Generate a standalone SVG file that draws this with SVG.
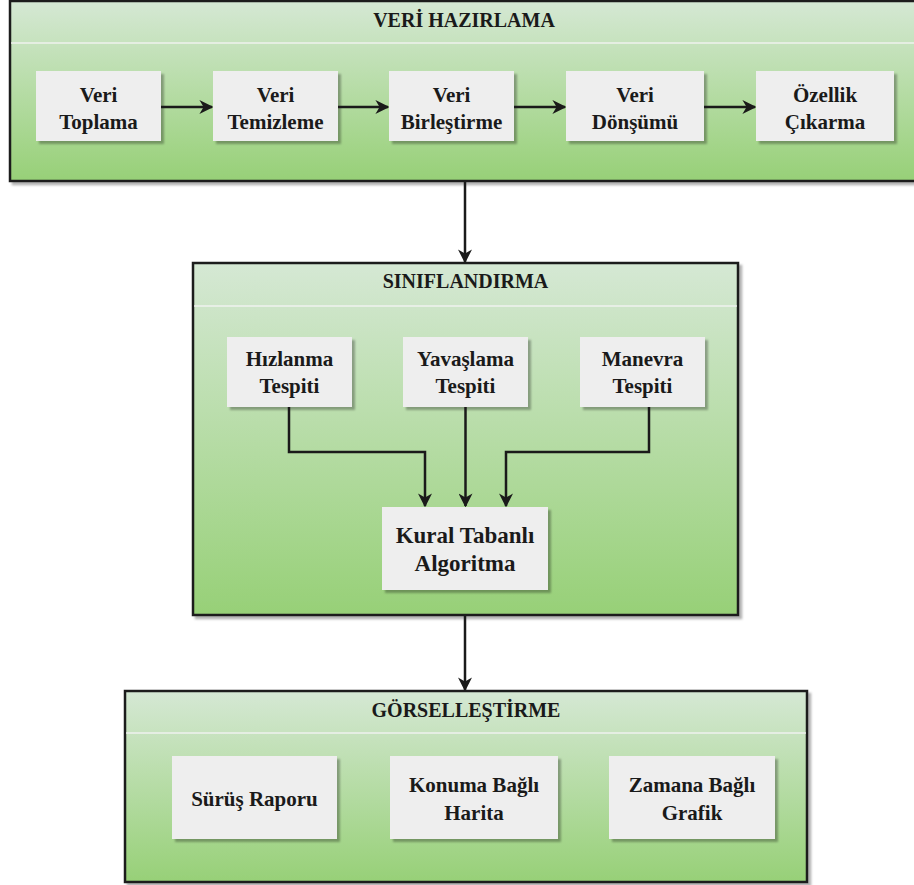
<svg xmlns="http://www.w3.org/2000/svg" width="914" height="885" viewBox="0 0 914 885">
<defs>
<linearGradient id="g" x1="0" y1="0" x2="0" y2="1">
<stop offset="0" stop-color="#d5e8d4"/>
<stop offset="1" stop-color="#97d077"/>
</linearGradient>
<marker id="ah" viewBox="0 0 10 10" refX="9" refY="5" markerWidth="14" markerHeight="14" markerUnits="userSpaceOnUse" orient="auto">
<path d="M0,0 L10,5 L0,10 L3,5 z" fill="#1a1a1a"/>
</marker>
<filter id="sh" x="-5%" y="-5%" width="115%" height="115%">
<feOffset in="SourceAlpha" dx="3" dy="3" result="o"/>
<feColorMatrix in="o" type="matrix" values="0 0 0 0 0  0 0 0 0 0  0 0 0 0 0  0 0 0 0.3 0" result="c"/>
<feGaussianBlur in="c" stdDeviation="0.8" result="b"/>
<feMerge><feMergeNode in="b"/><feMergeNode in="SourceGraphic"/></feMerge>
</filter>
</defs>
<style>
.cont{fill:url(#g);stroke:#1a1a1a;stroke-width:2.5;filter:url(#sh)}
.sep{stroke:#f4f4f4;stroke-width:1.5;opacity:0.9}
.box{fill:#eeeeee;stroke:none;filter:url(#sh)}
.c{fill:none;stroke:#1a1a1a;stroke-width:2.5;marker-end:url(#ah)}
</style>

<g font-family="Liberation Serif, Times New Roman, DejaVu Serif, serif" font-weight="bold" fill="#1a1a1a" text-anchor="middle">
<g id="veri-hazirlama" font-size="20">
<rect class="cont" x="10" y="1" width="908" height="180"/>
<line class="sep" x1="11" y1="43" x2="914" y2="43"/>
<text x="464" y="27">VERİ HAZIRLAMA</text>
</g>

<g id="siniflandirma" font-size="20">
<rect class="cont" x="193" y="263" width="545" height="352"/>
<line class="sep" x1="194" y1="306" x2="737" y2="306"/>
<text x="465.5" y="288">SINIFLANDIRMA</text>
</g>

<g id="gorsellestirme" font-size="20">
<rect class="cont" x="125" y="691" width="682" height="191"/>
<line class="sep" x1="126" y1="733" x2="806" y2="733"/>
<text x="466" y="717">GÖRSELLEŞTİRME</text>
</g>

<g font-size="21">
<g id="veri-toplama"><rect class="box" x="36" y="71" width="125" height="70"/><text x="98.5" y="102">Veri</text><text x="98.5" y="129">Toplama</text></g>
<g id="veri-temizleme"><rect class="box" x="213" y="71" width="125" height="70"/><text x="275.5" y="102">Veri</text><text x="275.5" y="129">Temizleme</text></g>
<g id="veri-birlestirme"><rect class="box" x="389" y="71" width="125" height="70"/><text x="451.5" y="102">Veri</text><text x="451.5" y="129">Birleştirme</text></g>
<g id="veri-donusumu"><rect class="box" x="566" y="71" width="138" height="70"/><text x="635" y="102">Veri</text><text x="635" y="129">Dönşümü</text></g>
<g id="ozellik-cikarma"><rect class="box" x="756" y="71" width="138" height="70"/><text x="825" y="102">Özellik</text><text x="825" y="129">Çıkarma</text></g>

<g id="hizlanma"><rect class="box" x="227" y="337" width="125" height="70"/><text x="289.5" y="366">Hızlanma</text><text x="289.5" y="393">Tespiti</text></g>
<g id="yavaslama"><rect class="box" x="403" y="337" width="125" height="70"/><text x="465.5" y="366">Yavaşlama</text><text x="465.5" y="393">Tespiti</text></g>
<g id="manevra"><rect class="box" x="580" y="337" width="125" height="70"/><text x="642.5" y="366">Manevra</text><text x="642.5" y="393">Tespiti</text></g>

<g id="surus-raporu"><rect class="box" x="172" y="756" width="165" height="83"/><text x="254.5" y="806">Sürüş Raporu</text></g>
<g id="konuma-bagli"><rect class="box" x="390" y="756" width="168" height="83"/><text x="474" y="792">Konuma Bağlı</text><text x="474" y="820">Harita</text></g>
<g id="zamana-bagli"><rect class="box" x="609" y="756" width="166" height="83"/><text x="692" y="792">Zamana Bağlı</text><text x="692" y="820">Grafik</text></g>
</g>
<g id="kural" font-size="23"><rect class="box" x="382" y="507" width="166" height="83"/><text x="465" y="543">Kural Tabanlı</text><text x="465" y="571">Algoritma</text></g>
</g>

<g id="connectors">
<line class="c" x1="161" y1="107" x2="212" y2="107"/>
<line class="c" x1="338" y1="107" x2="388" y2="107"/>
<line class="c" x1="514" y1="107" x2="565" y2="107"/>
<line class="c" x1="704" y1="107" x2="755" y2="107"/>
<line class="c" x1="465" y1="182" x2="465" y2="262"/>
<polyline class="c" points="289,407 289,452 425,452 425,506"/>
<line class="c" x1="465.5" y1="407" x2="465.5" y2="506"/>
<polyline class="c" points="649,407 649,452 506,452 506,506"/>
<line class="c" x1="465" y1="616" x2="465" y2="690"/>
</g>
</svg>
